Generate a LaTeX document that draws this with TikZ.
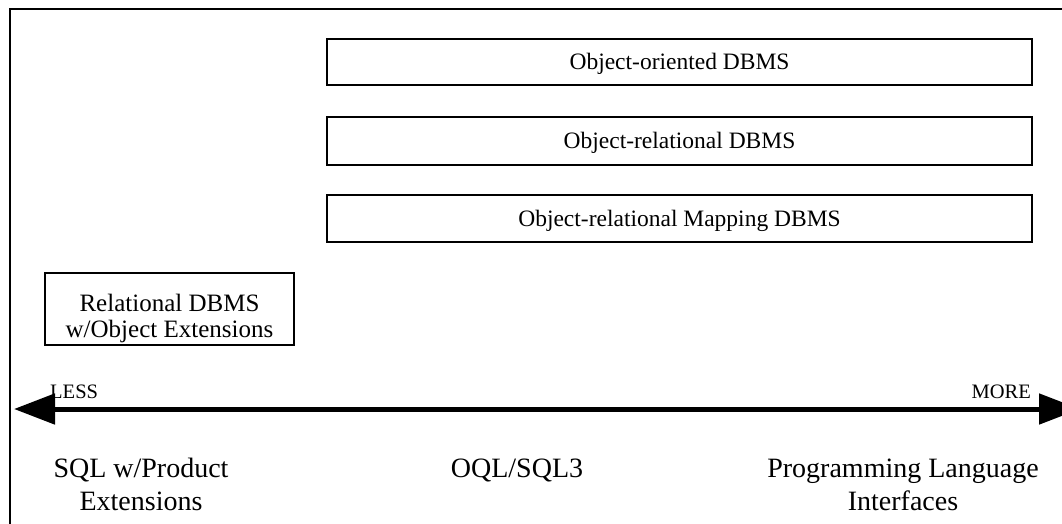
\documentclass[tikz,border=0pt]{standalone}
\usepackage{fontspec}
\setmainfont{Liberation Serif}
\usetikzlibrary{arrows.meta}
\begin{document}
\begin{tikzpicture}[x=1pt,y=-1pt,
  dbbox/.style={draw, line width=1.5pt, inner sep=0pt},
  bandtext/.style={inner sep=0pt, anchor=base, font=\fontsize{23.5}{25}\selectfont},
  boxtext/.style={inner sep=0pt, align=center, anchor=base, font=\fontsize{25}{26}\selectfont},
  bigtext/.style={align=center, inner sep=0pt, anchor=base,
    font=\fontsize{28}{33}\selectfont},
  endtext/.style={inner sep=0pt, anchor=base, font=\fontsize{20.5}{21}\selectfont},
  rangearrow/.style={line width=5pt, {Triangle[length=41pt,width=30pt]}-{Triangle[length=41pt,width=30pt]}}
]
\useasboundingbox (0,0) rectangle (1062,523);
\fill[white] (0,0) rectangle (1062,523);
% frame: only the left and top edges fall inside the page
\draw[line width=2pt] (10,530) -- (10,9) -- (1070,9);

% the three object DBMS bands
\node[dbbox, minimum width=705pt, minimum height=46pt] (oodb) at (679.5,62) {};
\node[bandtext] (oodbt) at (679.5,69) {Object-oriented DBMS};
\node[dbbox, minimum width=705pt, minimum height=48pt] (ordb) at (679.5,141) {};
\node[bandtext] (ordbt) at (679.5,148) {Object-relational DBMS};
\node[dbbox, minimum width=705pt, minimum height=47pt] (ormap) at (679.5,218.5) {};
\node[bandtext] (ormapt) at (679.5,226) {Object-relational Mapping DBMS};

% relational box
\node[dbbox, minimum width=249pt, minimum height=72pt] (rdb) at (169.5,309) {};
\node[boxtext] (rdbt) at (169.5,337) {Relational DBMS\\w/Object Extensions};

% less/more range
\coordinate (lessend) at (14,409);
\coordinate (moreend) at (1080,409);
\draw[rangearrow] (lessend) -- (moreend);
\node[endtext, anchor=base west] (less) at (50,398) {LESS};
\node[endtext, anchor=base east] (more) at (1031,398) {MORE};

% interface labels
\node[bigtext] (sqlext) at (141,510) {SQL w/Product\\Extensions};
\node[bigtext] (oql) at (517,477) {OQL/SQL3};
\node[bigtext] (pli) at (903,510) {Programming Language\\Interfaces};
\end{tikzpicture}
\end{document}
